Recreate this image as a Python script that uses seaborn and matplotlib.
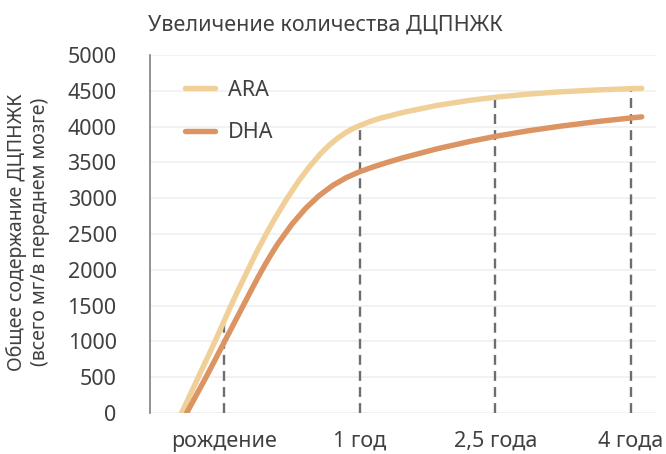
import numpy as np
import pandas as pd
import matplotlib
matplotlib.use("Agg")
import matplotlib.pyplot as plt
import seaborn as sns

# ---- data ----
categories = ["рождение", "1 год", "2,5 года", "4 года"]
cat_pos = [0, 1, 2, 3]

ara_x = [-0.312, -0.189, -0.066, 0.052, 0.11, 0.24, 0.31, 0.38, 0.465, 0.55, 0.63, 0.71,
         0.775, 0.84, 0.895, 0.95, 1.0, 1.08, 1.15, 1.32, 1.568, 1.813, 2.01, 2.24,
         2.477, 2.74, 3.005, 3.079]
ara_y = [0, 500, 1000, 1500, 1738, 2245, 2496, 2732, 2997, 3238, 3440, 3617,
         3740, 3842, 3913, 3971, 4014, 4073, 4116, 4198, 4295, 4367, 4412, 4453,
         4485, 4511, 4530, 4534]

dha_x = [-0.275, -0.132, 0.005, 0.142, 0.2, 0.25, 0.3, 0.35, 0.4, 0.5, 0.6, 0.7, 0.8, 0.9,
         1.0, 1.1, 1.2, 1.32, 1.568, 1.813, 2.01, 2.24, 2.477, 2.74, 3.005, 3.079]
dha_y = [0, 500, 1000, 1500, 1712, 1891, 2062, 2223, 2372, 2634, 2854, 3034, 3176, 3286,
         3370, 3437, 3498, 3565, 3689, 3793, 3867, 3941, 4005, 4068, 4122, 4136]

series_names = ["ARA", "DHA"]
colors = ["#F0D098", "#DB9462"]

title = "Увеличение количества ДЦПНЖК"
ylabel = "Общее содержание ДЦПНЖК\n(всего мг/в переднем мозге)"
yticks = list(range(0, 5001, 500))

df = pd.concat([
    pd.DataFrame({"x": ara_x, "y": ara_y, "s": "ARA"}),
    pd.DataFrame({"x": dha_x, "y": dha_y, "s": "DHA"}),
])

sns.set_theme(style="white")
plt.rcParams["font.family"] = ["Noto Sans", "DejaVu Sans"]
txt = "#404040"

fig = plt.figure(figsize=(6.66, 4.54), dpi=100)
ax = fig.add_axes([150 / 666, 1 - 413 / 454, (656 - 150) / 666, (413 - 55) / 454])

# dashed guides up to the ARA curve
tops = np.interp(cat_pos, ara_x, ara_y)
ax.vlines(cat_pos, 0, tops, colors="#6E6E6E", linestyles=(0, (4.2, 2.6)), linewidth=1.7, zorder=1)

sns.lineplot(data=df, x="x", y="y", hue="s", palette=dict(zip(series_names, colors)),
             linewidth=3.9, legend=False, ax=ax, sort=True, zorder=3)
for ln in ax.lines:
    ln.set_solid_capstyle("round")
    ln.set_solid_joinstyle("round")

ax.set_xlim(-0.545, 3.184)
ax.set_ylim(0, 5000)
ax.set_yticks(yticks)
ax.set_xticks(cat_pos)
ax.set_xticklabels(categories)
ax.set_xlabel("")
ax.set_ylabel("")
ax.grid(axis="y", color="#F0F0F0", linewidth=1.2, zorder=0)
ax.set_axisbelow(True)
for s in ["top", "right", "bottom"]:
    ax.spines[s].set_visible(False)
ax.spines["left"].set_color("#808080")
ax.spines["left"].set_linewidth(1.2)
ax.tick_params(axis="y", length=0, pad=24, labelsize=15.5, labelcolor=txt)
ax.tick_params(axis="x", length=0, pad=13, labelsize=15.5, labelcolor=txt)

leg = ax.legend(ax.lines[:2], series_names, loc="upper left",
                bbox_to_anchor=(185 / 666, 1 - 80 / 454), bbox_transform=fig.transFigure,
                frameon=False, fontsize=15.5, handlelength=1.4, handletextpad=0.6,
                labelspacing=0.98, borderpad=0, borderaxespad=0)
for t in leg.get_texts():
    t.set_color(txt)

fig.text(148 / 666, 1 - 31 / 454, title, fontsize=15.5, color=txt, ha="left", va="baseline")
fig.text(28 / 666, 1 - 232 / 454, ylabel, fontsize=14, color=txt, rotation=90,
         ha="center", va="center", multialignment="center", linespacing=1.15)

fig.savefig("out.png", dpi=100)
